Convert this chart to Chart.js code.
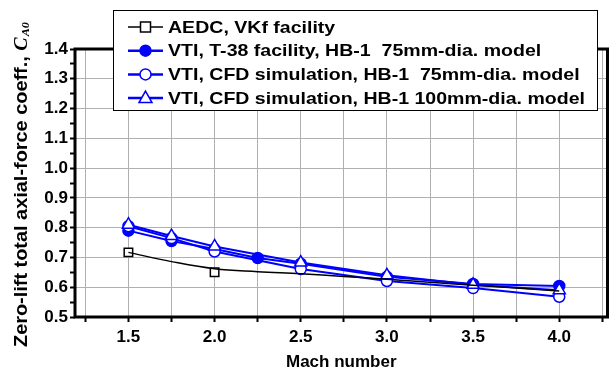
<!DOCTYPE html>
<html>
<head>
<meta charset="utf-8">
<script src="https://cdn.jsdelivr.net/npm/chart.js@4.4.1/dist/chart.umd.min.js"></script>
<style>
  html, body { margin: 0; padding: 0; background: #fff; }
  #wrap { width: 616px; height: 373px; position: relative; }
</style>
</head>
<body>
<div id="wrap"><canvas id="chart" width="616" height="373"></canvas></div>
<script>
// data
const aedcMach = [1.5, 2.0];
const aedcVals = [0.717, 0.650];
const aedcFitMach = [1.5, 1.75, 2.0, 2.25, 2.5, 2.75, 3.0, 3.25, 3.5, 3.75, 4.0];
const aedcFitVals = [0.717, 0.686, 0.662, 0.652, 0.645, 0.636, 0.627, 0.617, 0.607, 0.597, 0.587];
const t38Mach = [1.5, 1.75, 2.0, 2.25, 2.5, 3.0, 3.5, 4.0];
const t38Vals = [0.790, 0.755, 0.728, 0.698, 0.679, 0.635, 0.611, 0.604];
const cfd75Mach = [1.5, 1.75, 2.0, 2.5, 3.0, 3.5, 4.0];
const cfd75Vals = [0.805, 0.765, 0.720, 0.661, 0.621, 0.597, 0.568];
const cfd100Mach = [1.5, 1.75, 2.0, 2.5, 3.0, 3.5, 4.0];
const cfd100Vals = [0.810, 0.772, 0.737, 0.683, 0.640, 0.608, 0.590];

const legendLabels = [
    'AEDC, VKf facility',
    'VTI, T-38 facility, HB-1  75mm-dia. model',
    'VTI, CFD simulation, HB-1  75mm-dia. model',
    'VTI, CFD simulation, HB-1 100mm-dia. model'
];
const xTickVals = [1.25, 1.5, 1.75, 2.0, 2.25, 2.5, 2.75, 3.0, 3.25, 3.5, 3.75, 4.0, 4.25];
const yTickVals = [0.5, 0.55, 0.6, 0.65, 0.7, 0.75, 0.8, 0.85, 0.9, 0.95, 1.0, 1.05, 1.1, 1.15, 1.2, 1.25, 1.3, 1.35, 1.4];

const BLUE = '#0000ff';
const FONT = '"Liberation Sans", Arial, sans-serif';

const pts = (xs, ys) => xs.map((x, i) => ({ x: x, y: ys[i] }));

// marker drawing for the legend
function drawMarker(ctx, style, x, y, color, fill) {
    ctx.save();
    ctx.strokeStyle = color;
    ctx.fillStyle = fill;
    ctx.lineWidth = 1.5;
    ctx.beginPath();
    if (style === 'rect') {
        ctx.rect(x - 5, y - 5, 10, 10);
    } else if (style === 'circle') {
        ctx.arc(x, y, 5.5, 0, Math.PI * 2);
    } else {
        ctx.moveTo(x, y - 7);
        ctx.lineTo(x + 6.5, y + 4.5);
        ctx.lineTo(x - 6.5, y + 4.5);
        ctx.closePath();
    }
    ctx.fill();
    ctx.stroke();
    ctx.restore();
}

const framePlugin = {
    id: 'frame',
    afterDraw(chart) {
        const ctx = chart.ctx;
        const a = chart.chartArea;
        ctx.save();
        // thick box round the plot
        ctx.strokeStyle = '#000';
        ctx.lineWidth = 3;
        ctx.strokeRect(a.left, a.top, a.right - a.left, a.bottom - a.top);

        // legend
        const lx = 113, ly = 10, lw = 484, lh = 100;
        ctx.fillStyle = '#fff';
        ctx.fillRect(lx, ly, lw, lh);
        ctx.lineWidth = 1;
        ctx.strokeStyle = '#000';
        ctx.strokeRect(lx + 0.5, ly + 0.5, lw, lh);
        const rows = [
            { color: '#000', style: 'rect', fill: '#fff' },
            { color: BLUE, style: 'circle', fill: BLUE },
            { color: BLUE, style: 'circle', fill: '#fff' },
            { color: BLUE, style: 'triangle', fill: '#fff' }
        ];
        ctx.font = 'bold 17px ' + FONT;
        ctx.textBaseline = 'middle';
        const longest = ctx.measureText(legendLabels[3]).width;
        const sx = 417 / longest;
        rows.forEach((r, i) => {
            const y = 27 + i * 23.7;
            ctx.strokeStyle = r.color;
            ctx.lineWidth = i === 0 ? 1.5 : 2.5;
            ctx.beginPath();
            ctx.moveTo(128, y);
            ctx.lineTo(163, y);
            ctx.stroke();
            drawMarker(ctx, r.style, 145.5, y, r.color, r.fill);
            ctx.save();
            ctx.translate(168, y + 1);
            ctx.scale(sx, 1);
            ctx.fillStyle = '#000';
            ctx.fillText(legendLabels[i], 0, 0);
            ctx.restore();
        });

        // y axis title with subscript
        const t1 = 'Zero-lift total axial-force coeff., ';
        ctx.font = 'bold 18px ' + FONT;
        const w1 = ctx.measureText(t1).width;
        ctx.font = 'italic bold 18px "Liberation Serif", serif';
        const w2 = ctx.measureText('C').width;
        ctx.font = 'italic bold 11px "Liberation Serif", serif';
        const w3 = ctx.measureText('A0').width;
        const total = w1 + w2 + w3 + 2;
        const st = 326 / total;
        ctx.translate(22, 184 + 326 / 2);
        ctx.rotate(-Math.PI / 2);
        ctx.scale(st, 1);
        ctx.fillStyle = '#000';
        ctx.textBaseline = 'middle';
        ctx.textAlign = 'left';
        ctx.font = 'bold 18px ' + FONT;
        ctx.fillText(t1, 0, 0);
        ctx.font = 'italic bold 18px "Liberation Serif", serif';
        ctx.fillText('C', w1, 0);
        ctx.font = 'italic bold 11px "Liberation Serif", serif';
        ctx.fillText('A0', w1 + w2 + 1, 4);
        ctx.restore();
    }
};

const ctx = document.getElementById('chart').getContext('2d');
new Chart(ctx, {
    type: 'scatter',
    data: {
        datasets: [
            {
                label: 'AEDC fit',
                data: pts(aedcFitMach, aedcFitVals),
                showLine: true,
                borderColor: '#000',
                borderWidth: 1.5,
                pointRadius: 0,
                tension: 0.4
            },
            {
                label: legendLabels[0],
                data: pts(aedcMach, aedcVals),
                showLine: false,
                pointStyle: 'rect',
                pointRadius: 6,
                borderColor: '#000',
                backgroundColor: '#fff',
                pointBorderWidth: 1.5
            },
            {
                label: legendLabels[3],
                data: pts(cfd100Mach, cfd100Vals),
                showLine: true,
                borderColor: BLUE,
                borderWidth: 2,
                pointStyle: 'triangle',
                pointRadius: 7,
                pointBackgroundColor: '#fff',
                pointBorderColor: BLUE,
                pointBorderWidth: 1.5
            },
            {
                label: legendLabels[2],
                data: pts(cfd75Mach, cfd75Vals),
                showLine: true,
                borderColor: BLUE,
                borderWidth: 2,
                pointStyle: 'circle',
                pointRadius: 5.5,
                pointBackgroundColor: '#fff',
                pointBorderColor: BLUE,
                pointBorderWidth: 1.5
            },
            {
                label: legendLabels[1],
                data: pts(t38Mach, t38Vals),
                showLine: true,
                borderColor: BLUE,
                borderWidth: 2,
                pointStyle: 'circle',
                pointRadius: 5.5,
                pointBackgroundColor: BLUE,
                pointBorderColor: BLUE,
                pointBorderWidth: 1.5
            }
        ]
    },
    options: {
        responsive: false,
        animation: false,
        layout: { padding: { left: 0, top: 49, right: 4, bottom: 0 } },
        plugins: {
            legend: { display: false },
            tooltip: { enabled: false }
        },
        scales: {
            x: {
                type: 'linear',
                min: 1.19,
                max: 4.28,
                afterBuildTicks: s => { s.ticks = xTickVals.map(v => ({ value: v })); },
                afterFit: s => { s.height = 56; },
                grid: { color: '#b0b0b0', lineWidth: 1, tickColor: '#000', tickLength: 5, tickWidth: 2 },
                border: { display: false },
                ticks: {
                    color: '#000',
                    font: { family: FONT, size: 17, weight: 'bold' },
                    maxRotation: 0,
                    autoSkip: false,
                    padding: 5,
                    callback: v => (Math.round(v * 100) % 50 === 0 ? v.toFixed(1) : '')
                },
                title: {
                    display: true,
                    text: 'Mach number',
                    color: '#000',
                    font: { family: FONT, size: 17, weight: 'bold' },
                    padding: { top: 0, bottom: 0 }
                }
            },
            y: {
                type: 'linear',
                min: 0.5,
                max: 1.4,
                afterBuildTicks: s => { s.ticks = yTickVals.map(v => ({ value: v })); },
                afterFit: s => { s.width = 75; },
                grid: {
                    color: c => (Math.round(c.tick.value * 100) % 10 === 0 ? '#b0b0b0' : 'rgba(0,0,0,0)'),
                    lineWidth: 1,
                    tickColor: '#000',
                    tickLength: 5,
                    tickWidth: 2
                },
                border: { display: false },
                ticks: {
                    color: '#000',
                    font: { family: FONT, size: 17, weight: 'bold' },
                    autoSkip: false,
                    padding: 2,
                    callback: v => (Math.round(v * 100) % 10 === 0 ? v.toFixed(1) : '')
                }
            }
        }
    },
    plugins: [framePlugin]
});
</script>
</body>
</html>
